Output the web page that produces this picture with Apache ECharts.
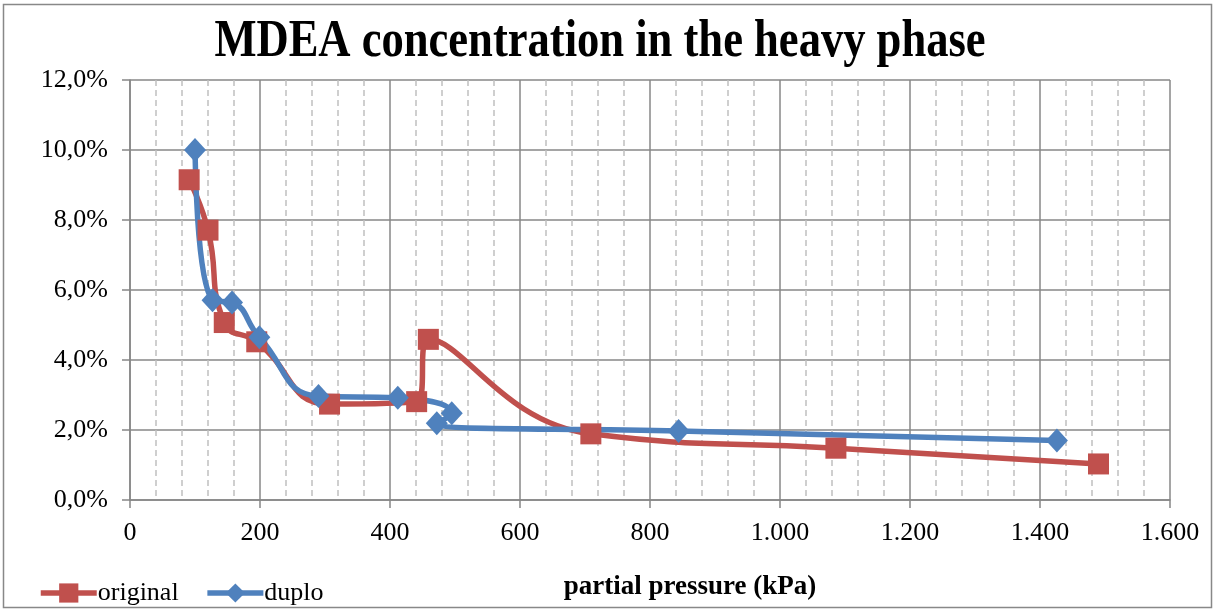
<!DOCTYPE html>
<html>
<head>
<meta charset="utf-8">
<script src="https://cdn.jsdelivr.net/npm/echarts@6/dist/echarts.min.js"></script>
<style>
html,body{margin:0;padding:0;background:#fff;}
#chart{width:1216px;height:610px;}
</style>
</head>
<body>
<div id="chart"></div>
<script>
// Data (x: partial pressure kPa, y: MDEA %)
const originalX = [91, 120, 145, 195, 307, 441, 459, 709, 1086, 1490];
const originalY = [9.15, 7.71, 5.07, 4.52, 2.74, 2.81, 4.59, 1.89, 1.48, 1.03];
const duploX = [100, 127, 157, 199, 290, 412, 495, 472, 844, 1426];
const duploY = [10.0, 5.71, 5.64, 4.65, 2.97, 2.92, 2.48, 2.19, 1.97, 1.70];
const seriesNames = ['original', 'duplo'];
const titleText = 'MDEA concentration in the heavy phase';
const xAxisTitle = 'partial pressure (kPa)';

const FONT = '"Liberation Serif", "Times New Roman", serif';
const pair = (xs, ys) => xs.map((x, i) => [x, ys[i]]);

const chart = echarts.init(document.getElementById('chart'));
chart.setOption({
  backgroundColor: '#fff',
  animation: false,
  grid: { left: 130, right: 46, top: 80, bottom: 110 },
  legend: {
    left: 33,
    top: 575,
    itemWidth: 56,
    itemHeight: 24,
    itemGap: 26,
    lineStyle: { width: 5.5 },
    textStyle: { fontFamily: FONT, fontSize: 26, color: '#000', padding: [0, 0, 0, -4] },
    data: seriesNames
  },
  xAxis: {
    type: 'value',
    min: 0, max: 1600, interval: 200,
    axisLine: { show: true, lineStyle: { color: '#878787', width: 1.5 } },
    axisTick: { show: true, length: 8, lineStyle: { color: '#878787', width: 1.5 } },
    axisLabel: {
      margin: 20,
      fontFamily: FONT, fontSize: 26, color: '#000',
      formatter: v => v >= 1000 ? String(v).replace(/(\d)(?=(\d{3})+$)/, '$1.') : String(v)
    },
    splitLine: { show: true, lineStyle: { color: '#878787', width: 1.5 } },
    minorTick: { show: false, splitNumber: 5 },
    minorSplitLine: { show: true, lineStyle: { color: '#c0c0c0', width: 1.5, type: [6, 4] } }
  },
  yAxis: {
    type: 'value',
    min: 0, max: 12, interval: 2,
    axisLine: { show: true, lineStyle: { color: '#878787', width: 1.5 } },
    axisTick: { show: true, length: 8, lineStyle: { color: '#878787', width: 1.5 } },
    axisLabel: {
      margin: 22,
      fontFamily: FONT, fontSize: 26, color: '#000',
      formatter: v => v.toFixed(1).replace('.', ',') + '%'
    },
    splitLine: { show: true, lineStyle: { color: '#878787', width: 1.5 } }
  },
  series: [
    {
      name: seriesNames[0],
      type: 'line',
      data: pair(originalX, originalY),
      smooth: 0.5,
      symbol: 'rect',
      symbolSize: 21,
      itemStyle: { color: '#C0504D' },
      lineStyle: { color: '#C0504D', width: 5.5 }
    },
    {
      name: seriesNames[1],
      type: 'line',
      data: pair(duploX, duploY),
      smooth: 0.5,
      symbol: 'diamond',
      symbolSize: [22, 24],
      itemStyle: { color: '#4F81BD' },
      lineStyle: { color: '#4F81BD', width: 5.5 }
    }
  ],
  graphic: [
    {
      type: 'rect',
      shape: { x: 3.5, y: 4.5, width: 1208, height: 603 },
      style: { fill: 'none', stroke: '#888', lineWidth: 1.5 },
      silent: true
    },
    {
      type: 'text',
      x: 600, y: 43,
      scaleX: 0.857,
      style: {
        text: titleText,
        fontFamily: FONT, fontWeight: 'bold', fontSize: 52, fill: '#000',
        textAlign: 'center', textVerticalAlign: 'middle'
      }
    },
    {
      type: 'text',
      x: 690, y: 587,
      style: {
        text: xAxisTitle,
        fontFamily: FONT, fontWeight: 'bold', fontSize: 27, fill: '#000',
        textAlign: 'center', textVerticalAlign: 'middle'
      }
    }
  ]
});
</script>
</body>
</html>
